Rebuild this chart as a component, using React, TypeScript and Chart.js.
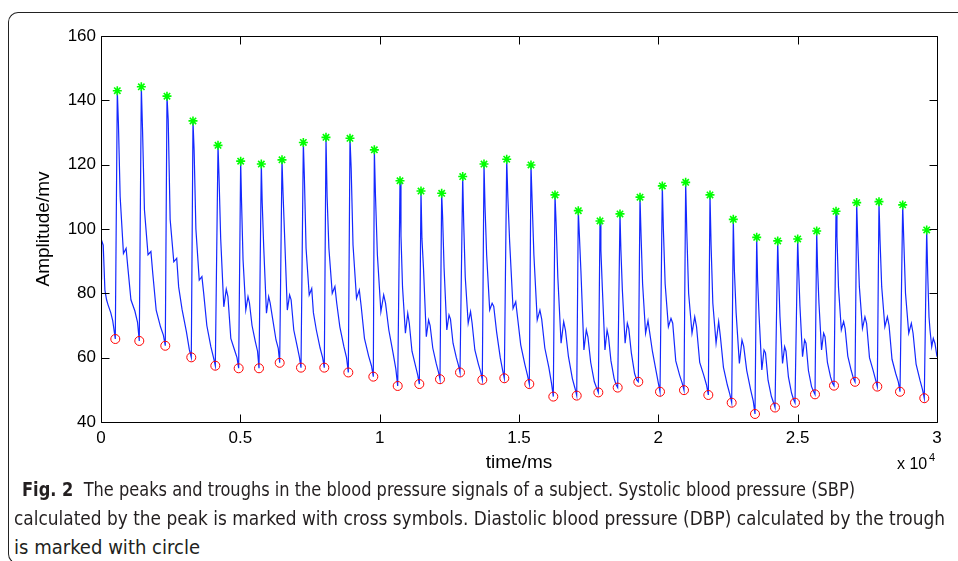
import React, { useEffect, useLayoutEffect, useRef } from "react";
import { Chart, registerables } from "chart.js";

Chart.register(...registerables);

// ---------- data ----------
const xTickLabels = ["0", "0.5", "1", "1.5", "2", "2.5", "3"];
const yTickLabels = ["40", "60", "80", "100", "120", "140", "160"];

// systolic peaks (time in ms, amplitude)
const peakT = [585, 1447, 2368, 3301, 4199, 5012, 5753, 6495, 7261, 8074, 8935, 9809, 10730, 11483, 12225, 12980, 13744, 14559, 15430, 16292, 17128, 17907, 18624, 19342, 20143, 20981, 21854, 22690, 23530, 24284, 25001, 25683, 26376, 27118, 27918, 28769, 29630];
const peakV = [143.0, 144.2, 141.3, 133.6, 126.0, 121.1, 120.2, 121.5, 126.9, 128.5, 128.2, 124.6, 115.0, 111.8, 111.1, 116.3, 120.2, 121.7, 119.9, 110.6, 105.7, 102.5, 104.7, 109.9, 113.4, 114.5, 110.6, 103.0, 97.4, 96.3, 96.9, 99.4, 105.5, 108.2, 108.5, 107.5, 99.7];

// diastolic troughs
const troughT = [513, 1374, 2307, 3240, 4102, 4940, 5670, 6412, 7177, 8013, 8875, 9772, 10647, 11423, 12165, 12883, 13683, 14473, 15370, 16231, 17071, 17847, 18541, 19281, 20060, 20921, 21794, 22632, 23469, 24187, 24904, 25622, 26304, 27058, 27858, 28672, 29544];
const troughV = [65.8, 65.2, 63.7, 60.1, 57.5, 56.7, 56.7, 58.4, 56.9, 56.9, 55.4, 54.1, 51.2, 51.8, 53.3, 55.4, 53.1, 53.6, 51.8, 47.9, 48.2, 49.2, 50.7, 52.5, 49.4, 49.9, 48.4, 46.0, 42.5, 44.5, 46.0, 48.6, 51.3, 52.5, 51.0, 49.4, 47.4];

// signal before the first trough
const headT = [0, 20, 80, 140, 200, 250, 350, 420, 470];
const headV = [84.5, 96.5, 95, 81, 78, 76.5, 74, 71.5, 68.5];

// signal after the last peak
const tailT = [29666, 29713, 29749, 29810, 29867, 29928, 30000];
const tailV = [86.2, 72.7, 68.6, 63.4, 66.0, 64.4, 60.3];

// where, inside each falling limb (peak -> next trough), the samples below were read
const limbFractions = [0.05, 0.13, 0.28, 0.4, 0.48, 0.62, 0.8, 0.92];

// falling-limb values read for beats 1..36
const shoulderV = [133, 131, 134, 124.6, 116, 108, 108, 112, 116, 110, 119, 110, 98, 97, 104, 102, 107, 110, 109, 102, 98.7, 93.5, 93.5, 98.7, 99.7, 99, 95, 87.2, 84, 86, 88, 88, 97.6, 96.6, 96.6, 96.6];
const kneeV = [110, 106, 103, 100, 97, 90.4, 94.5, 99, 94, 94, 95, 92, 82, 88, 88, 85, 92, 96, 92, 85, 87, 82, 81, 83, 83, 80, 77, 74, 73, 72.7, 76, 77, 82, 82, 82, 80];
const notchV = [92.4, 92, 89.8, 84.1, 75.8, 74.8, 73.8, 74.8, 79.5, 80, 78.4, 74.3, 67.6, 66.5, 68.6, 70.7, 74.8, 75.3, 71.7, 64.5, 62.4, 62.4, 64.5, 67.6, 69.6, 67.6, 64.5, 58.2, 56.2, 58.2, 60.3, 62.4, 68.6, 69.1, 69.6, 67.6];
const bumpV = [94, 93, 90.9, 85.2, 81.3, 79, 79, 79.5, 81.5, 82.1, 81, 79.5, 73.8, 71.7, 73.3, 74.3, 76.9, 77.4, 74.8, 71.2, 68.6, 68.6, 70.7, 71.5, 72.2, 72.7, 71.2, 65.5, 62.4, 63.4, 65.5, 67.6, 71.2, 72.7, 72.7, 70.7];
const postBumpV = [88, 86, 82, 80, 79, 77, 77, 78, 74, 77, 76, 76.9, 70.7, 70, 72, 70.7, 75.9, 72.5, 72, 68.6, 66.5, 66.5, 69, 68, 70.7, 69.6, 66.5, 63.5, 61.5, 62, 64.5, 66.5, 69, 70.7, 70, 67.6];
const decayV = [78, 74.8, 75, 70, 66, 70, 72, 68.6, 68.6, 69.6, 66, 68.6, 62, 63, 64.5, 62.4, 68, 64, 63, 60.3, 58.5, 59, 61.5, 62, 59, 58.5, 57, 56, 53, 54, 56, 58.5, 60.5, 60, 59.5, 58];
const lateV = [74.5, 69.6, 68, 63.4, 62.4, 65, 65.5, 63.5, 63, 63.5, 60.5, 61.5, 57.5, 58.2, 60, 58, 60, 58, 57, 53.5, 52.5, 53.5, 55, 56, 54.5, 54.5, 51.5, 50, 48, 49, 51, 54, 56, 56, 55, 53];
const preTroughV = [71, 67, 62.5, 60, 60, 62, 63, 60, 60, 60, 57.5, 56.5, 54.5, 55.5, 57.5, 55.5, 56, 54.5, 52, 50.5, 50.5, 51.5, 53, 52, 52, 51.5, 48.5, 46.5, 46, 47, 49.5, 52, 53.5, 53, 52.5, 50];

const captionLines = [
  { bold: "Fig. 2", text: "  The peaks and troughs in the blood pressure signals of a subject. Systolic blood pressure (SBP)" },
  { bold: "", text: "calculated by the peak is marked with cross symbols. Diastolic blood pressure (DBP) calculated by the trough" },
  { bold: "", text: "is marked with circle" },
];

// ---------- build series ----------
function buildWave() {
  const limbs = [shoulderV, kneeV, notchV, bumpV, postBumpV, decayV, lateV, preTroughV];
  const pts: { x: number; y: number }[] = [];
  headT.forEach((t, i) => pts.push({ x: t, y: headV[i] }));
  for (let i = 0; i < peakT.length; i++) {
    pts.push({ x: troughT[i], y: troughV[i] });
    pts.push({ x: peakT[i], y: peakV[i] });
    if (i < peakT.length - 1) {
      const span = troughT[i + 1] - peakT[i];
      limbFractions.forEach((f, k) => pts.push({ x: peakT[i] + f * span, y: limbs[k][i] }));
    } else {
      tailT.forEach((t, j) => pts.push({ x: t, y: tailV[j] }));
    }
  }
  return pts;
}

const AXIS_FONT = "'Liberation Sans', Arial, Helvetica, sans-serif";

const framePlugin = {
  id: "matlabFrame",
  afterDatasetsDraw(chart: any) {
    const { ctx, chartArea } = chart;
    const { left, right, top, bottom } = chartArea;
    const xs = chart.scales.x;
    const ys = chart.scales.y;
    const L = 8;
    ctx.save();
    ctx.strokeStyle = "#000";
    ctx.lineWidth = 1;
    ctx.beginPath();
    const l = Math.round(left) + 0.5, r = Math.round(right) + 0.5, t = Math.round(top) + 0.5, b = Math.round(bottom) + 0.5;
    ctx.rect(l, t, r - l, b - t);
    xs.ticks.forEach((tk: any) => {
      const x = Math.round(xs.getPixelForValue(tk.value)) + 0.5;
      ctx.moveTo(x, b); ctx.lineTo(x, b - L);
      ctx.moveTo(x, t); ctx.lineTo(x, t + L);
    });
    ys.ticks.forEach((tk: any) => {
      const y = Math.round(ys.getPixelForValue(tk.value)) + 0.5;
      ctx.moveTo(l, y); ctx.lineTo(l + L, y);
      ctx.moveTo(r, y); ctx.lineTo(r - L, y);
    });
    ctx.stroke();
    // exponent label
    ctx.fillStyle = "#000";
    ctx.textBaseline = "alphabetic";
    ctx.font = `16px ${AXIS_FONT}`;
    ctx.fillText("x 10", right - 40, bottom + 47);
    ctx.font = `11px ${AXIS_FONT}`;
    ctx.fillText("4", right - 8, bottom + 39);
    ctx.restore();
  },
};

export default function App() {
  const canvasRef = useRef<HTMLCanvasElement | null>(null);
  const lineRefs = useRef<(HTMLSpanElement | null)[]>([]);

  useEffect(() => {
    const canvas = canvasRef.current;
    if (!canvas) return;
    const wave = buildWave();
    const peaks = peakT.map((t, i) => ({ x: t, y: peakV[i] }));
    const troughs = troughT.map((t, i) => ({ x: t, y: troughV[i] }));
    const chart = new Chart(canvas, {
      type: "line",
      data: {
        datasets: [
          { label: "signal", data: wave, borderColor: "#1428ff", borderWidth: 1.2, pointRadius: 0, fill: false, tension: 0, order: 3 },
          { label: "SBP", data: peaks, showLine: false, pointStyle: "star", pointRadius: 4.5, borderColor: "#00ff00", backgroundColor: "#00ff00", borderWidth: 1.6, order: 1 },
          { label: "DBP", data: troughs, showLine: false, pointStyle: "circle", pointRadius: 4.5, borderColor: "#ff0000", backgroundColor: "rgba(0,0,0,0)", borderWidth: 1, order: 2 },
        ],
      } as any,
      options: {
        animation: false,
        responsive: false,
        maintainAspectRatio: false,
        events: [],
        layout: { padding: { left: 0, top: 36, right: 21, bottom: 0 } },
        plugins: { legend: { display: false }, tooltip: { enabled: false } },
        scales: {
          x: {
            type: "linear",
            min: 0,
            max: 30000,
            grid: { display: false, drawTicks: false },
            border: { display: false },
            ticks: {
              stepSize: 5000,
              autoSkip: false,
              maxRotation: 0,
              padding: 6,
              color: "#000",
              font: { family: AXIS_FONT, size: 17 },
              callback: (_v: any, i: number) => xTickLabels[i],
            },
            title: { display: true, text: "time/ms", color: "#000", font: { family: AXIS_FONT, size: 19 }, padding: { top: 0, bottom: 5.6 } },
            afterFit: (s: any) => { s.height = 58; },
          },
          y: {
            type: "linear",
            min: 40,
            max: 160,
            grid: { display: false, drawTicks: false },
            border: { display: false },
            ticks: {
              stepSize: 20,
              autoSkip: false,
              padding: 5,
              color: "#000",
              font: { family: AXIS_FONT, size: 17 },
              callback: (_v: any, i: number) => yTickLabels[i],
            },
            title: { display: true, text: "Amplitude/mv", color: "#000", font: { family: AXIS_FONT, size: 19 }, padding: { top: 32.6, bottom: 0 } },
            afterFit: (s: any) => { s.width = 101; },
          },
        },
      } as any,
      plugins: [framePlugin],
    });
    return () => chart.destroy();
  }, []);

  const targets = [
    { left: 22, width: 833 },
    { left: 14, width: 931 },
    { left: 14, width: 186 },
  ];

  useLayoutEffect(() => {
    lineRefs.current.forEach((el, i) => {
      if (!el) return;
      el.style.transform = "none";
      const w = el.getBoundingClientRect().width;
      if (w > 0) el.style.transform = `scaleX(${targets[i].width / w})`;
    });
  }, []);

  return (
    <div style={{ position: "absolute", left: 0, top: 0, width: 958, height: 561, background: "#fff", overflow: "hidden" }}>
      <div style={{ position: "absolute", left: 8, top: 12, width: 1000, height: 552, borderLeft: "1px solid #222", borderTop: "1px solid #222", borderBottom: "1px solid #222", borderTopLeftRadius: 10, borderBottomLeftRadius: 10, boxSizing: "border-box" }} />
      <canvas ref={canvasRef} width={958} height={480} style={{ position: "absolute", left: 0, top: 0, width: 958, height: 480 }} />
      {captionLines.map((ln, i) => (
        <div key={i} style={{ position: "absolute", left: targets[i].left, top: 475 + i * 29, height: 29, lineHeight: "29px", whiteSpace: "nowrap", fontFamily: "'Liberation Sans Narrow', 'DejaVu Sans Condensed', 'Open Sans', sans-serif", fontSize: 20, color: "#231f20" }}>
          <span ref={(el) => { lineRefs.current[i] = el; }} style={{ display: "inline-block", transformOrigin: "0 50%", whiteSpace: "pre" }}>
            {ln.bold ? <b>{ln.bold}</b> : null}
            {ln.text}
          </span>
        </div>
      ))}
    </div>
  );
}
